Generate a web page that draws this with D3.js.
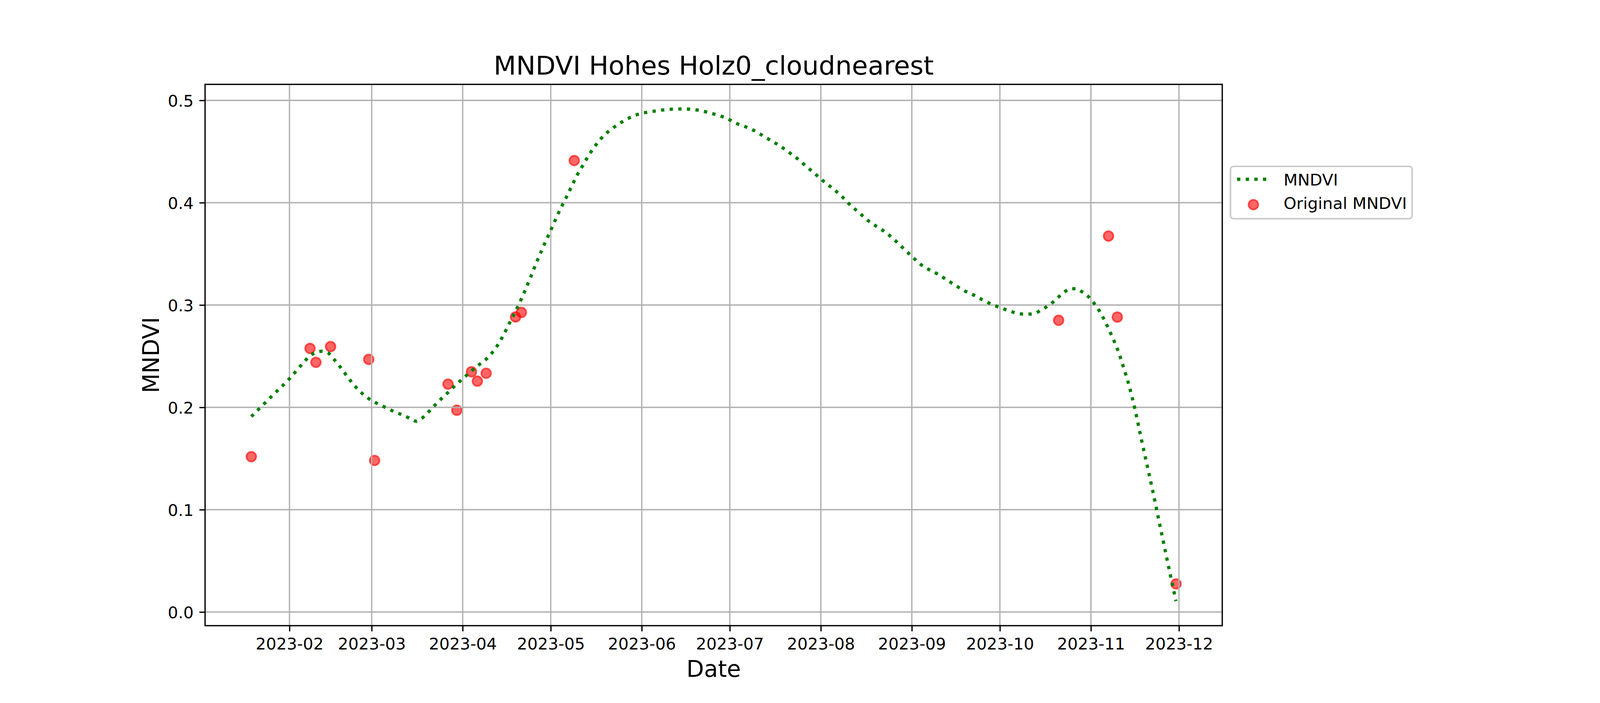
<!DOCTYPE html>
<html>
<head>
<meta charset="utf-8">
<script src="https://cdn.jsdelivr.net/npm/d3@7"></script>
<style>
  html, body { margin: 0; padding: 0; background: #ffffff; }
  svg { display: block; font-family: "DejaVu Sans", sans-serif; }
</style>
</head>
<body>
<svg id="chart" width="4200" height="1800"></svg>
<script>
// ---------------- data ----------------
const titleText = "MNDVI Hohes Holz0_cloudnearest";
const xLabelText = "Date";
const yLabelText = "MNDVI";
const seriesNames = ["MNDVI", "Original MNDVI"];

// smoothed MNDVI line
const lineDates = [
  "2023-01-19","2023-01-26","2023-02-01","2023-02-06","2023-02-08","2023-02-10","2023-02-12","2023-02-14",
  "2023-02-16","2023-02-18","2023-02-20","2023-02-22","2023-02-24","2023-02-26","2023-02-28","2023-03-03",
  "2023-03-06","2023-03-09","2023-03-12","2023-03-15","2023-03-16","2023-03-18","2023-03-20","2023-03-22",
  "2023-03-24","2023-03-26","2023-03-28","2023-03-30","2023-04-01","2023-04-03","2023-04-05","2023-04-07",
  "2023-04-09","2023-04-11","2023-04-13","2023-04-15","2023-04-17","2023-04-19","2023-04-21","2023-04-22",
  "2023-04-24","2023-04-26","2023-04-28","2023-04-30","2023-05-02","2023-05-04","2023-05-06","2023-05-08",
  "2023-05-10","2023-05-12","2023-05-14","2023-05-16","2023-05-18","2023-05-20","2023-05-22","2023-05-24",
  "2023-05-26","2023-05-28","2023-05-31","2023-06-03","2023-06-06","2023-06-09","2023-06-12","2023-06-15",
  "2023-06-18","2023-06-21","2023-06-24","2023-06-27","2023-06-30","2023-07-03","2023-07-06","2023-07-09",
  "2023-07-12","2023-07-15","2023-07-18","2023-07-21","2023-07-24","2023-07-27","2023-07-30","2023-08-02",
  "2023-08-05","2023-08-08","2023-08-11","2023-08-14","2023-08-17","2023-08-20","2023-08-23","2023-08-26",
  "2023-08-29","2023-09-01","2023-09-04","2023-09-07","2023-09-10","2023-09-13","2023-09-16","2023-09-19",
  "2023-09-22","2023-09-25","2023-09-28","2023-10-01","2023-10-04","2023-10-07","2023-10-10","2023-10-13",
  "2023-10-15","2023-10-17","2023-10-19","2023-10-21","2023-10-23","2023-10-25","2023-10-27","2023-10-29",
  "2023-10-31","2023-11-02","2023-11-04","2023-11-06","2023-11-08","2023-11-10","2023-11-12","2023-11-14",
  "2023-11-16","2023-11-18","2023-11-20","2023-11-22","2023-11-24","2023-11-26","2023-11-28","2023-11-30"
];
const lineValues = [
  0.1910,0.2110,0.2280,0.2445,0.2505,0.2535,0.2548,0.2535,
  0.2475,0.2405,0.2328,0.2252,0.2185,0.2130,0.2085,0.2036,
  0.1995,0.1954,0.1920,0.1878,0.1865,0.1891,0.1945,0.2005,
  0.2064,0.2118,0.2173,0.2229,0.2279,0.2330,0.2380,0.2426,
  0.2471,0.2532,0.2612,0.2712,0.2827,0.2938,0.3060,0.3125,
  0.3262,0.3405,0.3540,0.3668,0.3795,0.3922,0.4035,0.4153,
  0.4270,0.4368,0.4465,0.4549,0.4622,0.4680,0.4726,0.4766,
  0.4802,0.4832,0.4866,0.4885,0.4897,0.4909,0.4915,0.4916,
  0.4912,0.4900,0.4879,0.4855,0.4824,0.4778,0.4746,0.4709,
  0.4659,0.4607,0.4557,0.4495,0.4431,0.4356,0.4283,0.4208,
  0.4140,0.4066,0.3978,0.3904,0.3827,0.3768,0.3712,0.3639,
  0.3557,0.3476,0.3397,0.3344,0.3299,0.3245,0.3189,0.3138,
  0.3098,0.3052,0.3010,0.2975,0.2945,0.2918,0.2910,0.2921,
  0.2950,0.2985,0.3026,0.3079,0.3128,0.3158,0.3160,0.3129,
  0.3086,0.3020,0.2937,0.2830,0.2706,0.2572,0.2402,0.2213,
  0.1984,0.1714,0.1452,0.1193,0.0917,0.0643,0.0371,0.0107
];

// original observations
const pointDates = [
  "2023-01-19","2023-02-08","2023-02-10","2023-02-15","2023-02-28","2023-03-02",
  "2023-03-27","2023-03-30","2023-04-04","2023-04-06","2023-04-09","2023-04-19",
  "2023-04-21","2023-05-09","2023-10-21","2023-11-07","2023-11-10","2023-11-30"
];
const pointValues = [
  0.1518,0.2576,0.2440,0.2594,0.2469,0.1481,
  0.2227,0.1972,0.2348,0.2256,0.2333,0.2883,
  0.2928,0.4412,0.2851,0.3674,0.2882,0.0275
];

const xTickDates = ["2023-02-01","2023-03-01","2023-04-01","2023-05-01","2023-06-01","2023-07-01",
                    "2023-08-01","2023-09-01","2023-10-01","2023-11-01","2023-12-01"];
const yTickValues = [0.0, 0.1, 0.2, 0.3, 0.4, 0.5];

// ---------------- drawing ----------------
const parse = d3.utcParse("%Y-%m-%d");
const lineData = lineDates.map((d, i) => ({ t: parse(d), v: lineValues[i] }));
const pointData = pointDates.map((d, i) => ({ t: parse(d), v: pointValues[i] }));
const xTicks = xTickDates.map(parse);

const PT = 300 / 72;                // px per point (300 dpi)
const L = 525, R = 3129, T = 216, B = 1602;

const allT = lineData.map(d => +d.t).concat(pointData.map(d => +d.t));
const allV = lineValues.concat(pointValues);
const tMin = d3.min(allT), tMax = d3.max(allT);
const vMin = d3.min(allV), vMax = d3.max(allV);
const tPad = (tMax - tMin) * 0.05, vPad = (vMax - vMin) * 0.05;

const x = d3.scaleUtc().domain([new Date(tMin - tPad), new Date(tMax + tPad)]).range([L, R]);
const y = d3.scaleLinear().domain([vMin - vPad, vMax + vPad]).range([B, T]);

const svg = d3.select("#chart");
svg.append("rect").attr("width", 4200).attr("height", 1800).attr("fill", "#ffffff");

// axes background
svg.append("rect").attr("x", L).attr("y", T).attr("width", R - L).attr("height", B - T).attr("fill", "#ffffff");

// scatter (zorder 1)
svg.append("g").selectAll("circle").data(pointData).join("circle")
  .attr("cx", d => x(d.t)).attr("cy", d => y(d.v))
  .attr("r", 3 * PT)
  .attr("fill", "red").attr("fill-opacity", 0.6)
  .attr("stroke", "red").attr("stroke-opacity", 0.6).attr("stroke-width", 1.0 * PT);

// grid (zorder 1.5)
const grid = svg.append("g").attr("stroke", "#b0b0b0").attr("stroke-width", 0.8 * PT);
grid.selectAll("line.gx").data(xTicks).join("line").attr("class", "gx")
  .attr("x1", d => x(d)).attr("x2", d => x(d)).attr("y1", T).attr("y2", B);
grid.selectAll("line.gy").data(yTickValues).join("line").attr("class", "gy")
  .attr("x1", L).attr("x2", R).attr("y1", d => y(d)).attr("y2", d => y(d));

// line (zorder 2)
const lineGen = d3.line().x(d => x(d.t)).y(d => y(d.v)).curve(d3.curveMonotoneX);
svg.append("path").datum(lineData)
  .attr("d", lineGen)
  .attr("fill", "none").attr("stroke", "#008000")
  .attr("stroke-width", 2 * PT)
  .attr("stroke-dasharray", `${2 * PT} ${2 * 1.65 * PT}`)
  .attr("stroke-linecap", "butt").attr("stroke-linejoin", "round");

// axes via d3
const tickLen = 3.5 * PT, tickPad = 3.5 * PT;
const fs = 10 * PT;
const xAxis = d3.axisBottom(x).tickValues(xTicks).tickFormat(d3.utcFormat("%Y-%m"))
  .tickSizeInner(tickLen).tickSizeOuter(0).tickPadding(tickPad);
const gx = svg.append("g").attr("transform", `translate(0,${B})`).call(xAxis);
gx.select(".domain").remove();
gx.selectAll(".tick line").attr("stroke", "#000").attr("stroke-width", 0.8 * PT);
gx.selectAll(".tick text").attr("font-size", fs).attr("fill", "#000")
  .attr("font-family", "DejaVu Sans").attr("dy", null).attr("y", tickLen + tickPad + fs * 0.76);

const yAxis = d3.axisLeft(y).tickValues(yTickValues).tickFormat(d3.format(".1f"))
  .tickSizeInner(tickLen).tickSizeOuter(0).tickPadding(tickPad);
const gy = svg.append("g").attr("transform", `translate(${L},0)`).call(yAxis);
gy.select(".domain").remove();
gy.selectAll(".tick line").attr("stroke", "#000").attr("stroke-width", 0.8 * PT);
gy.selectAll(".tick text").attr("font-size", fs).attr("fill", "#000")
  .attr("font-family", "DejaVu Sans").attr("dy", null).attr("y", fs * 0.365);

// spines
svg.append("rect").attr("x", L).attr("y", T).attr("width", R - L).attr("height", B - T)
  .attr("fill", "none").attr("stroke", "#000").attr("stroke-width", 0.8 * PT);

// title & labels
svg.append("text").attr("x", (L + R) / 2).attr("y", 191).attr("text-anchor", "middle")
  .attr("font-size", 16 * PT).attr("fill", "#000").text(titleText);
svg.append("text").attr("x", (L + R) / 2).attr("y", 1733).attr("text-anchor", "middle")
  .attr("font-size", 14 * PT).attr("fill", "#000").text(xLabelText);
svg.append("text").attr("transform", `translate(407,${(T + B) / 2}) rotate(-90)`).attr("text-anchor", "middle")
  .attr("font-size", 14 * PT).attr("fill", "#000").text(yLabelText);

// legend
const lg = svg.append("g");
lg.append("rect").attr("x", 3150).attr("y", 426).attr("width", 465).attr("height", 134)
  .attr("rx", 8).attr("ry", 8)
  .attr("fill", "#ffffff").attr("fill-opacity", 0.8)
  .attr("stroke", "#cccccc").attr("stroke-width", 1.0 * PT);
lg.append("line").attr("x1", 3167).attr("x2", 3167 + 20 * PT).attr("y1", 459).attr("y2", 459)
  .attr("stroke", "#008000").attr("stroke-width", 2 * PT)
  .attr("stroke-dasharray", `${2 * PT} ${2 * 1.65 * PT}`);
lg.append("circle").attr("cx", 3167 + 10 * PT).attr("cy", 524).attr("r", 3 * PT)
  .attr("fill", "red").attr("fill-opacity", 0.6)
  .attr("stroke", "red").attr("stroke-opacity", 0.6).attr("stroke-width", 1.0 * PT);
lg.selectAll("text.lt").data(seriesNames).join("text").attr("class", "lt")
  .attr("x", 3286).attr("y", (d, i) => 475 + i * 60)
  .attr("font-size", fs).attr("fill", "#000").text(d => d);
</script>
</body>
</html>
